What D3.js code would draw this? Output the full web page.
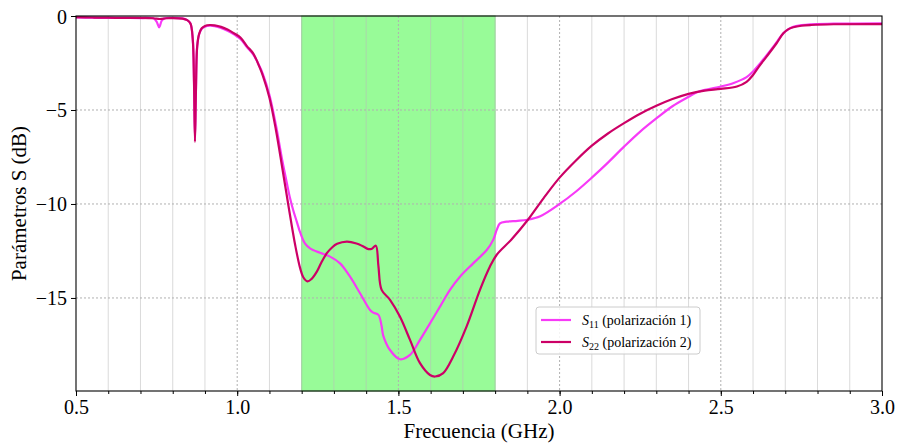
<!DOCTYPE html>
<html>
<head>
<meta charset="utf-8">
<script src="https://cdn.jsdelivr.net/npm/d3@7"></script>
<style>
  html, body { margin: 0; padding: 0; background: #fff; }
  svg { display: block; }
  text { font-family: "Liberation Serif", "DejaVu Serif", serif; }
</style>
</head>
<body>
<svg id="chart" width="899" height="445"></svg>
<script>
// Frequency (GHz) and S11 magnitude (dB), polarización 1
const s11Freq = [0.50,0.55,0.60,0.65,0.70,0.74,0.75,0.758,0.766,0.775,0.80,0.83,0.845,0.855,0.862,0.866,0.869,0.872,0.876,0.882,0.89,0.90,0.915,0.93,0.95,0.97,0.99,1.01,1.03,1.05,1.07,1.08,1.10,1.12,1.14,1.153,1.164,1.174,1.185,1.195,1.21,1.226,1.257,1.288,1.319,1.35,1.381,1.412,1.422,1.438,1.448,1.453,1.474,1.505,1.536,1.567,1.598,1.629,1.66,1.691,1.732,1.774,1.794,1.805,1.815,1.836,1.87,1.90,1.94,2.00,2.05,2.10,2.15,2.20,2.25,2.30,2.35,2.40,2.43,2.46,2.50,2.54,2.58,2.60,2.622,2.663,2.694,2.71,2.725,2.75,2.777,2.85,3.00];
const s11Db   = [-0.08,-0.09,-0.10,-0.10,-0.11,-0.12,-0.30,-0.60,-0.25,-0.12,-0.10,-0.13,-0.22,-0.40,-1.2,-3.4,-6.5,-3.9,-1.6,-0.97,-0.68,-0.57,-0.52,-0.54,-0.63,-0.78,-0.98,-1.22,-1.65,-2.05,-2.7,-3.1,-4.2,-5.8,-7.7,-8.8,-9.7,-10.35,-10.95,-11.5,-12.1,-12.36,-12.6,-12.8,-13.16,-13.87,-14.75,-15.64,-15.78,-15.9,-16.5,-17.0,-17.77,-18.26,-18.03,-17.23,-16.35,-15.46,-14.57,-13.87,-13.16,-12.45,-11.91,-11.38,-11.03,-10.94,-10.9,-10.84,-10.65,-10.0,-9.35,-8.6,-7.8,-6.95,-6.15,-5.45,-4.8,-4.3,-4.03,-3.9,-3.75,-3.56,-3.25,-2.95,-2.52,-1.63,-0.92,-0.70,-0.57,-0.49,-0.44,-0.41,-0.39];

// Frequency (GHz) and S22 magnitude (dB), polarización 2
const s22Freq = [0.50,0.55,0.60,0.65,0.70,0.74,0.76,0.78,0.80,0.83,0.845,0.855,0.862,0.866,0.869,0.872,0.876,0.882,0.89,0.90,0.915,0.93,0.95,0.97,0.99,1.01,1.03,1.05,1.07,1.08,1.10,1.12,1.14,1.16,1.18,1.195,1.205,1.218,1.23,1.247,1.26,1.278,1.295,1.31,1.34,1.37,1.39,1.407,1.418,1.43,1.438,1.448,1.474,1.505,1.536,1.567,1.598,1.614,1.639,1.67,1.712,1.753,1.784,1.805,1.85,1.90,1.95,2.00,2.05,2.10,2.15,2.20,2.25,2.30,2.35,2.40,2.45,2.50,2.55,2.58,2.60,2.62,2.642,2.673,2.694,2.71,2.725,2.75,2.78,2.85,3.00];
const s22Db   = [-0.06,-0.08,-0.09,-0.10,-0.10,-0.12,-0.16,-0.12,-0.11,-0.14,-0.22,-0.40,-1.2,-3.5,-6.7,-4.0,-1.6,-0.95,-0.65,-0.53,-0.48,-0.50,-0.58,-0.72,-0.92,-1.15,-1.6,-2.0,-2.75,-3.2,-4.35,-6.05,-8.1,-10.2,-12.2,-13.4,-13.9,-14.12,-14.0,-13.6,-13.15,-12.62,-12.3,-12.12,-12.0,-12.1,-12.25,-12.4,-12.38,-12.22,-13.3,-14.57,-15.1,-16.0,-17.23,-18.47,-19.1,-19.18,-19.0,-18.12,-16.5,-14.57,-13.33,-12.7,-11.9,-10.88,-9.7,-8.6,-7.7,-6.9,-6.25,-5.7,-5.2,-4.78,-4.42,-4.14,-3.97,-3.88,-3.75,-3.5,-3.14,-2.65,-2.16,-1.45,-0.92,-0.70,-0.60,-0.52,-0.48,-0.44,-0.43];

// Axis ticks and the highlighted band
const xTicks = [0.5, 1.0, 1.5, 2.0, 2.5, 3.0];
const xTickLabels = ["0.5", "1.0", "1.5", "2.0", "2.5", "3.0"];
const xMinorTicks = d3.range(5, 31).map(d => d / 10);
const yTicks = [0, -5, -10, -15];
const yTickLabels = ["0", "\u22125", "\u221210", "\u221215"];
const band = [1.2, 1.8];

const series = [
  { name: "11", freq: s11Freq, db: s11Db, color: "#f73af7" },
  { name: "22", freq: s22Freq, db: s22Db, color: "#cc0066" }
];

const margin = { left: 76, right: 17, top: 16, bottom: 54 };
const W = 899, H = 445;
const svg = d3.select("#chart");

const x = d3.scaleLinear().domain([0.5, 3.0]).range([margin.left, W - margin.right]);
const y = d3.scaleLinear().domain([-19.95, 0]).range([H - margin.bottom, margin.top]);

const plot = svg.append("g");

// Highlighted band
plot.append("rect")
  .attr("x", x(band[0])).attr("y", y(0))
  .attr("width", x(band[1]) - x(band[0]))
  .attr("height", y(-19.95) - y(0))
  .attr("fill", "#98fb98")
  .attr("stroke", "#8ee68e").attr("stroke-width", 1);

// Minor vertical grid
plot.append("g").selectAll("line")
  .data(xMinorTicks.filter(d => !xTicks.some(t => Math.abs(t - d) < 1e-9)))
  .join("line")
  .attr("x1", d => x(d)).attr("x2", d => x(d))
  .attr("y1", y(0)).attr("y2", y(-19.95))
  .attr("stroke", "#bbbbbb").attr("stroke-opacity", 0.55).attr("stroke-width", 1);

// Major dotted grid
plot.append("g").selectAll("line")
  .data(xTicks.slice(1, -1))
  .join("line")
  .attr("x1", d => x(d)).attr("x2", d => x(d))
  .attr("y1", y(0)).attr("y2", y(-19.95))
  .attr("stroke", "#b0b0b0").attr("stroke-width", 1).attr("stroke-dasharray", "2,2");
plot.append("g").selectAll("line")
  .data(yTicks.slice(1))
  .join("line")
  .attr("x1", x(0.5)).attr("x2", x(3.0))
  .attr("y1", d => y(d)).attr("y2", d => y(d))
  .attr("stroke", "#b0b0b0").attr("stroke-width", 1).attr("stroke-dasharray", "2,2");

// Curves
const line = d3.line()
  .x(d => x(d[0])).y(d => y(d[1]))
  .curve(d3.curveCatmullRom.alpha(0.5));

series.forEach(s => {
  plot.append("path")
    .datum(s.freq.map((f, i) => [f, s.db[i]]))
    .attr("fill", "none")
    .attr("stroke", s.color)
    .attr("stroke-width", 2.2)
    .attr("stroke-linejoin", "round")
    .attr("d", line);
});

// Frame
svg.append("rect")
  .attr("x", x(0.5)).attr("y", y(0))
  .attr("width", x(3.0) - x(0.5)).attr("height", y(-19.95) - y(0))
  .attr("fill", "none").attr("stroke", "#000").attr("stroke-width", 1.1);

// X axis
const xAxis = svg.append("g")
  .attr("transform", `translate(0,${y(-19.95)})`)
  .call(d3.axisBottom(x).tickValues(xTicks).tickFormat((d, i) => xTickLabels[i]).tickSize(5).tickPadding(4));
xAxis.select(".domain").remove();
xAxis.selectAll("text").attr("font-size", 20).attr("font-family", "Liberation Serif, serif").attr("fill", "#000");
svg.append("g")
  .attr("transform", `translate(0,${y(-19.95)})`)
  .call(d3.axisBottom(x).tickValues(xMinorTicks).tickFormat("").tickSize(3))
  .select(".domain").remove();

// Y axis
const yAxis = svg.append("g")
  .attr("transform", `translate(${x(0.5)},0)`)
  .call(d3.axisLeft(y).tickValues(yTicks).tickFormat((d, i) => yTickLabels[i]).tickSize(5).tickPadding(4));
yAxis.select(".domain").remove();
yAxis.selectAll("text").attr("font-size", 20).attr("font-family", "Liberation Serif, serif").attr("fill", "#000").attr("dy", "0.35em");

// Axis titles
svg.append("text")
  .attr("x", (x(0.5) + x(3.0)) / 2).attr("y", 438)
  .attr("text-anchor", "middle").attr("font-size", 21)
  .text("Frecuencia (GHz)");
svg.append("text")
  .attr("transform", `translate(26,${(y(0) + y(-19.95)) / 2}) rotate(-90)`)
  .attr("text-anchor", "middle").attr("font-size", 21)
  .text("Parámetros S (dB)");

// Legend
const legend = svg.append("g").attr("transform", "translate(536,307)");
legend.append("rect")
  .attr("width", 164).attr("height", 47).attr("rx", 3)
  .attr("fill", "#fff").attr("fill-opacity", 0.85)
  .attr("stroke", "#cccccc").attr("stroke-width", 1);
series.forEach((s, i) => {
  const row = legend.append("g").attr("transform", `translate(0,${13 + i * 22})`);
  row.append("line")
    .attr("x1", 5).attr("x2", 35).attr("y1", 0).attr("y2", 0)
    .attr("stroke", s.color).attr("stroke-width", 2.2);
  const t = row.append("text").attr("x", 46).attr("y", 5).attr("font-size", 14);
  t.append("tspan").attr("font-style", "italic").text("S");
  t.append("tspan").attr("font-size", 10).attr("dy", 3).text(s.name);
  t.append("tspan").attr("dy", -3).text(` (polarización ${i + 1})`);
});
</script>
</body>
</html>
